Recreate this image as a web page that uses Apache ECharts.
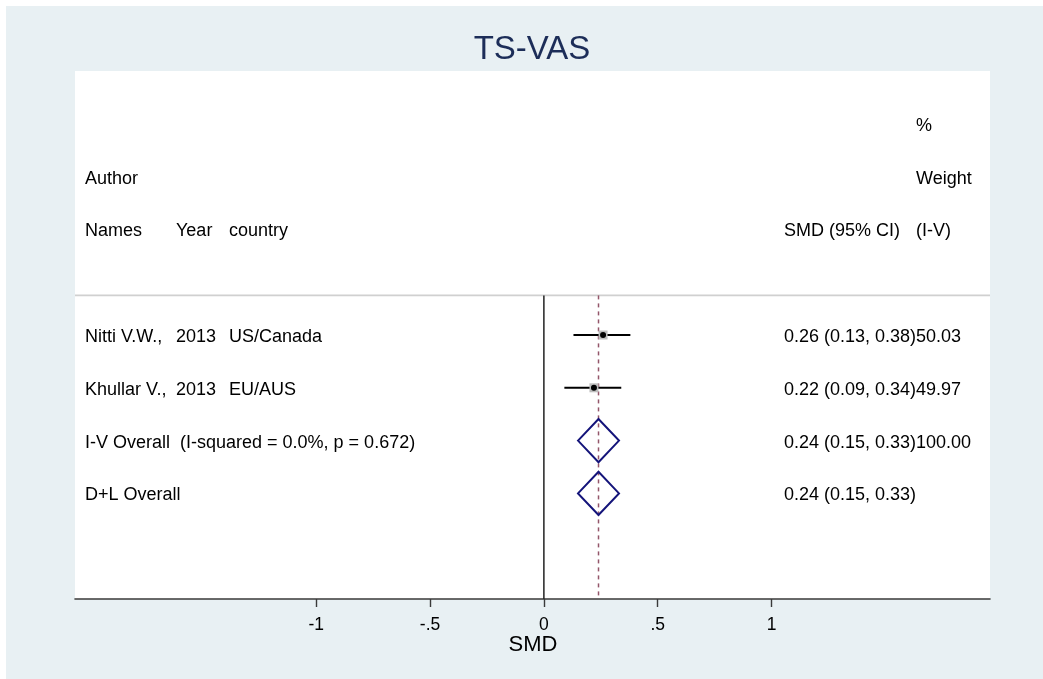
<!DOCTYPE html>
<html>
<head>
<meta charset="utf-8">
<script src="https://cdn.jsdelivr.net/npm/echarts@6/dist/echarts.min.js"></script>
<style>
  html, body { margin: 0; padding: 0; background: #ffffff; }
  #chart { position: absolute; left: 6px; top: 6px; width: 1037px; height: 673px; }
</style>
</head>
<body>
<div id="chart"></div>
<script>
// Study-level results (standardised mean difference with 95% CI)
const studyAuthors   = ['Nitti V.W.,', 'Khullar V.,'];
const studyYears     = ['2013', '2013'];
const studyCountries = ['US/Canada', 'EU/AUS'];
const studySMD       = [0.26, 0.22];
const studyLower     = [0.13, 0.09];
const studyUpper     = [0.38, 0.34];
const studyWeights   = ['50.03', '49.97'];

// Pooled estimates
const pooledLabels  = ['I-V Overall  (I-squared = 0.0%, p = 0.672)', 'D+L Overall'];
const pooledSMD     = [0.24, 0.24];
const pooledLower   = [0.15, 0.15];
const pooledUpper   = [0.33, 0.33];
const pooledWeights = ['100.00', ''];

// Axis ticks
const tickValues = [-1, -0.5, 0, 0.5, 1];

// Layout of the table rows on the hidden y scale
const X_MIN = -2.06, X_MAX = 1.96;
const Y_MAX = 10;
const SEP_Y = 5.75;              // horizontal rule under the header
const studyRows  = [5, 4];
const pooledRows = [3, 2];
const headRows   = [9, 8, 7];
const DIAMOND_H  = 0.41;         // half height of pooled diamonds, in row units
// Text column offsets (px) from the left edge of the plot area
const COL = { author: 10, year: 101, country: 154, est: 709, weight: 841 };

const FONT = '"Liberation Sans", Arial, Helvetica, sans-serif';
const fmt = v => v.toFixed(2);
const ciText = (e, l, u) => `${fmt(e)} (${fmt(l)}, ${fmt(u)})`;

// Table text entries: [row, column, text]
const textItems = [];
textItems.push([headRows[0], 'weight', '%']);
textItems.push([headRows[1], 'author', 'Author']);
textItems.push([headRows[1], 'weight', 'Weight']);
textItems.push([headRows[2], 'author', 'Names']);
textItems.push([headRows[2], 'year', 'Year']);
textItems.push([headRows[2], 'country', 'country']);
textItems.push([headRows[2], 'est', 'SMD (95% CI)']);
textItems.push([headRows[2], 'weight', '(I-V)']);
studyAuthors.forEach((a, i) => {
  const r = studyRows[i];
  textItems.push([r, 'author', a]);
  textItems.push([r, 'year', studyYears[i]]);
  textItems.push([r, 'country', studyCountries[i]]);
  textItems.push([r, 'est', ciText(studySMD[i], studyLower[i], studyUpper[i])]);
  textItems.push([r, 'weight', studyWeights[i]]);
});
pooledLabels.forEach((lab, i) => {
  const r = pooledRows[i];
  textItems.push([r, 'author', lab]);
  textItems.push([r, 'est', ciText(pooledSMD[i], pooledLower[i], pooledUpper[i])]);
  if (pooledWeights[i]) textItems.push([r, 'weight', pooledWeights[i]]);
});

const chart = echarts.init(document.getElementById('chart'), null, { renderer: 'canvas' });

chart.setOption({
  backgroundColor: '#e8f0f3',
  animation: false,
  grid: { left: 69, right: 53, top: 65, bottom: 80, show: true, backgroundColor: '#ffffff', borderWidth: 0 },
  xAxis: {
    type: 'value', min: X_MIN, max: X_MAX,
    axisLine: { show: true, onZero: false, lineStyle: { color: '#3a3a3a', width: 1.6 } },
    axisTick: { show: true, customValues: tickValues, length: 8, lineStyle: { color: '#3a3a3a', width: 1.4 } },
    axisLabel: {
      customValues: tickValues, margin: 17, color: '#000', fontSize: 17.5, fontFamily: FONT,
      formatter: v => (v === 0 ? '0' : String(v).replace('0.', '.'))
    },
    splitLine: { show: false }
  },
  yAxis: { type: 'value', min: 0, max: Y_MAX, show: false },
  graphic: [
    {
      type: 'text', x: 526, y: 44,
      style: { text: 'TS-VAS', fontSize: 33, fontFamily: FONT, fill: '#1c2d58', textAlign: 'center', textVerticalAlign: 'middle' }
    },
    {
      type: 'text', x: 527, y: 639,
      style: { text: 'SMD', fontSize: 22, fontFamily: FONT, fill: '#000', textAlign: 'center', textVerticalAlign: 'middle' }
    }
  ],
  series: [
    // Header rule, null line and pooled-estimate reference line
    {
      type: 'custom', silent: true, z: 1,
      data: [[0, SEP_Y]],
      renderItem: (params, api) => {
        const a = api.coord([X_MIN, SEP_Y]);
        const b = api.coord([X_MAX, SEP_Y]);
        const z0 = api.coord([0, SEP_Y]);
        const z1 = api.coord([0, 0]);
        const o0 = api.coord([pooledSMD[0], SEP_Y]);
        const o1 = api.coord([pooledSMD[0], 0]);
        return {
          type: 'group',
          children: [
            { type: 'line', shape: { x1: a[0], y1: a[1], x2: b[0], y2: b[1] }, style: { stroke: '#d0d0d0', lineWidth: 1.6 } },
            { type: 'line', shape: { x1: z0[0], y1: z0[1], x2: z1[0], y2: z1[1] }, style: { stroke: '#222', lineWidth: 1.5 } },
            { type: 'line', shape: { x1: o0[0], y1: o0[1], x2: o1[0], y2: o1[1] }, style: { stroke: '#94566a', lineWidth: 1.5, lineDash: [4, 4] } }
          ]
        };
      }
    },
    // Study confidence intervals with weight boxes and point estimates
    {
      type: 'custom', silent: true, z: 3,
      data: studySMD.map((v, i) => [v, studyRows[i], studyLower[i], studyUpper[i]]),
      renderItem: (params, api) => {
        const y = api.value(1);
        const p = api.coord([api.value(0), y]);
        const l = api.coord([api.value(2), y]);
        const u = api.coord([api.value(3), y]);
        const box = 9;
        return {
          type: 'group',
          children: [
            { type: 'line', shape: { x1: l[0], y1: l[1], x2: u[0], y2: u[1] }, style: { stroke: '#000', lineWidth: 2 } },
            { type: 'rect', shape: { x: p[0] - box / 2, y: p[1] - box / 2, width: box, height: box }, style: { fill: '#bdbdbd' } },
            { type: 'circle', shape: { cx: p[0], cy: p[1], r: 3 }, style: { fill: '#000' } }
          ]
        };
      }
    },
    // Pooled diamonds
    {
      type: 'custom', silent: true, z: 3,
      data: pooledSMD.map((v, i) => [v, pooledRows[i], pooledLower[i], pooledUpper[i]]),
      renderItem: (params, api) => {
        const y = api.value(1);
        const c = api.coord([api.value(0), y + DIAMOND_H]);
        const d = api.coord([api.value(0), y - DIAMOND_H]);
        const l = api.coord([api.value(2), y]);
        const u = api.coord([api.value(3), y]);
        return {
          type: 'polygon',
          shape: { points: [[l[0], l[1]], [c[0], c[1]], [u[0], u[1]], [d[0], d[1]]] },
          style: { fill: 'none', stroke: '#14147a', lineWidth: 2 }
        };
      }
    },
    // Table text
    {
      type: 'custom', silent: true, z: 4,
      data: textItems.map(t => [X_MIN, t[0]]),
      renderItem: (params, api) => {
        const item = textItems[params.dataIndex];
        const p = api.coord([X_MIN, api.value(1)]);
        return {
          type: 'text',
          x: p[0] + COL[item[1]], y: p[1] + 2,
          style: { text: item[2], fontSize: 18, fontFamily: FONT, fill: '#000', textAlign: 'left', textVerticalAlign: 'middle' }
        };
      }
    }
  ]
});
</script>
</body>
</html>
